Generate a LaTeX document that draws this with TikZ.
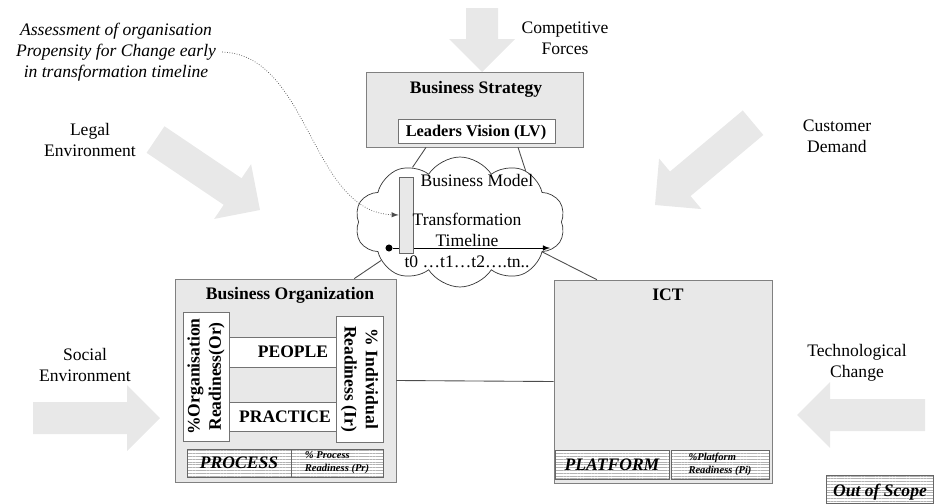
\documentclass[tikz,border=0pt]{standalone}
\usepackage{fontspec}
\setmainfont{Liberation Serif}
\usetikzlibrary{shapes.symbols,fit,patterns.meta}

\newcommand{\forcearrow}[3]{\fill[forcefill,shift={(#1)},rotate=#2] (0,0)--(-33,33)--(-33,16)--(-#3,16)--(-#3,-16)--(-33,-16)--(-33,-33)--cycle;}

\begin{document}
\begin{tikzpicture}[x=0.02cm,y=-0.02cm,
    forcefill/.style={fill=gray!18},
    panel/.style={draw=black!50,fill=gray!18,inner sep=0pt},
    whitebox/.style={draw=black!55,fill=white,inner sep=0pt},
    hatched/.style={draw=black!60,inner sep=0pt,preaction={fill=white},pattern={Lines[angle=0,distance=1.6pt,line width=0.3pt]},pattern color=gray!60},
    label/.style={align=center},
    small/.style={font=\fontsize{6}{7.5}\selectfont\bfseries\itshape,align=left},
    link/.style={draw=black!70,line width=0.5pt}]
    \useasboundingbox (0,0) rectangle (934,504);
    \forcearrow{482,72}{-90}{64}
    \forcearrow{260,210}{-34}{126}
    \forcearrow{655,205}{220}{128}
    \forcearrow{160,418}{0}{127}
    \forcearrow{797,415}{180}{128}
    \node[label] (compet) at (565,38) {Competitive\\Forces};
    \node[label] (legal) at (90,140) {Legal\\Environment};
    \node[label] (social) at (85,365) {Social\\Environment};
    \node[label] (customer) at (837,136) {Customer\\Demand};
    \node[label] (techno) at (857,363) {Technological\\Change};
    \node[label,font=\itshape] (assess) at (116,52) {Assessment of organisation\\Propensity for Change early\\in transformation timeline};
    \node[panel,fit={(366,72)(583,147)}] (strat) {};
    \node[font=\bfseries] (strattitle) at (476,89) {Business Strategy};
    \node[whitebox,fit={(398,119)(555,143)}] (vision) {};
    \node[font=\fontsize{9.3}{11}\selectfont\bfseries] (visiontext) at (476,133) {Leaders Vision (LV)};
    \node[panel,fit={(175,279)(396,482)}] (org) {};
    \node[panel,fit={(554,280)(772,483)}] (ict) {};
    \node[cloud,cloud puffs=10,cloud puff arc=115,shape border rotate=18,cloud ignores aspect,draw=black!80,fill=white,minimum width=4.2cm,minimum height=2.6cm] (model) at (460,222) {};
    \draw[link] (strat.218) -- (model.131);
    \draw[link] (strat.319) -- (model.38);
    \draw[link] (model.206) -- (org.56);
    \draw[link] (model.340) -- (ict.123);
    \draw[link] (org.east) -- (ict.west);
    \node (modeltext) at (477,180) {Business Model};
    \node[circle,fill=black,inner sep=0pt,minimum size=4pt] (tzero) at (389,248) {};
    \coordinate (tend) at (550,248);
    \draw[-latex] (tzero) -- (tend);
    \node[panel,draw=black!60,fit={(399,177)(413,253)}] (tlbar) {};
    \node[label] (tltext) at (467,230) {Transformation\\Timeline};
    \node (ticks) at (467,262) {t0 …t1…t2….tn..};
    \draw[densely dotted,black!70,-latex] (assess.east) .. controls (310,55) and (310,212) .. (tlbar.west);
    \node[font=\bfseries] (orgtitle) at (290,295) {Business Organization};
    \node[whitebox,fit={(229,337)(336,367)}] (people) {};
    \node[whitebox,fit={(229,402)(336,431)}] (practice) {};
    \node[font=\bfseries] (peopletext) at (293,352) {PEOPLE};
    \node[font=\bfseries] (practicetext) at (285,417) {PRACTICE};
    \node[whitebox,fit={(183,312)(229,441)}] (orgready) {};
    \node[whitebox,fit={(336,316)(383,442)}] (indready) {};
    \node[font=\bfseries,rotate=90,align=center] (orgreadytext) at (orgready.center) {\%Organisation\\Readiness(Or)};
    \node[font=\bfseries,rotate=-90,align=center] (indreadytext) at (indready.center) {\% Individual\\Readiness (Ir)};
    \node[hatched,fit={(187,449)(291,477)}] (process) {};
    \node[hatched,fit={(291,449)(383,477)}] (procready) {};
    \node[font=\bfseries\itshape] (processtext) at (process.center) {PROCESS};
    \node[small] (procreadytext) at (procready.center) {\% Process\\Readiness (Pr)};
    \node[font=\bfseries] (icttitle) at (668,295) {ICT};
    \node[hatched,fit={(555,450)(669,479)}] (platform) {};
    \node[hatched,fit={(671,450)(769,479)}] (platready) {};
    \node[font=\bfseries\itshape] (platformtext) at (platform.center) {PLATFORM};
    \node[small] (platreadytext) at (platready.center) {\%Platform\\Readiness (Pi)};
    \node[hatched,fit={(826,475)(933,503)}] (scope) {};
    \node[font=\bfseries\itshape] (scopetext) at (880,492) {Out of Scope};
\end{tikzpicture}
\end{document}
